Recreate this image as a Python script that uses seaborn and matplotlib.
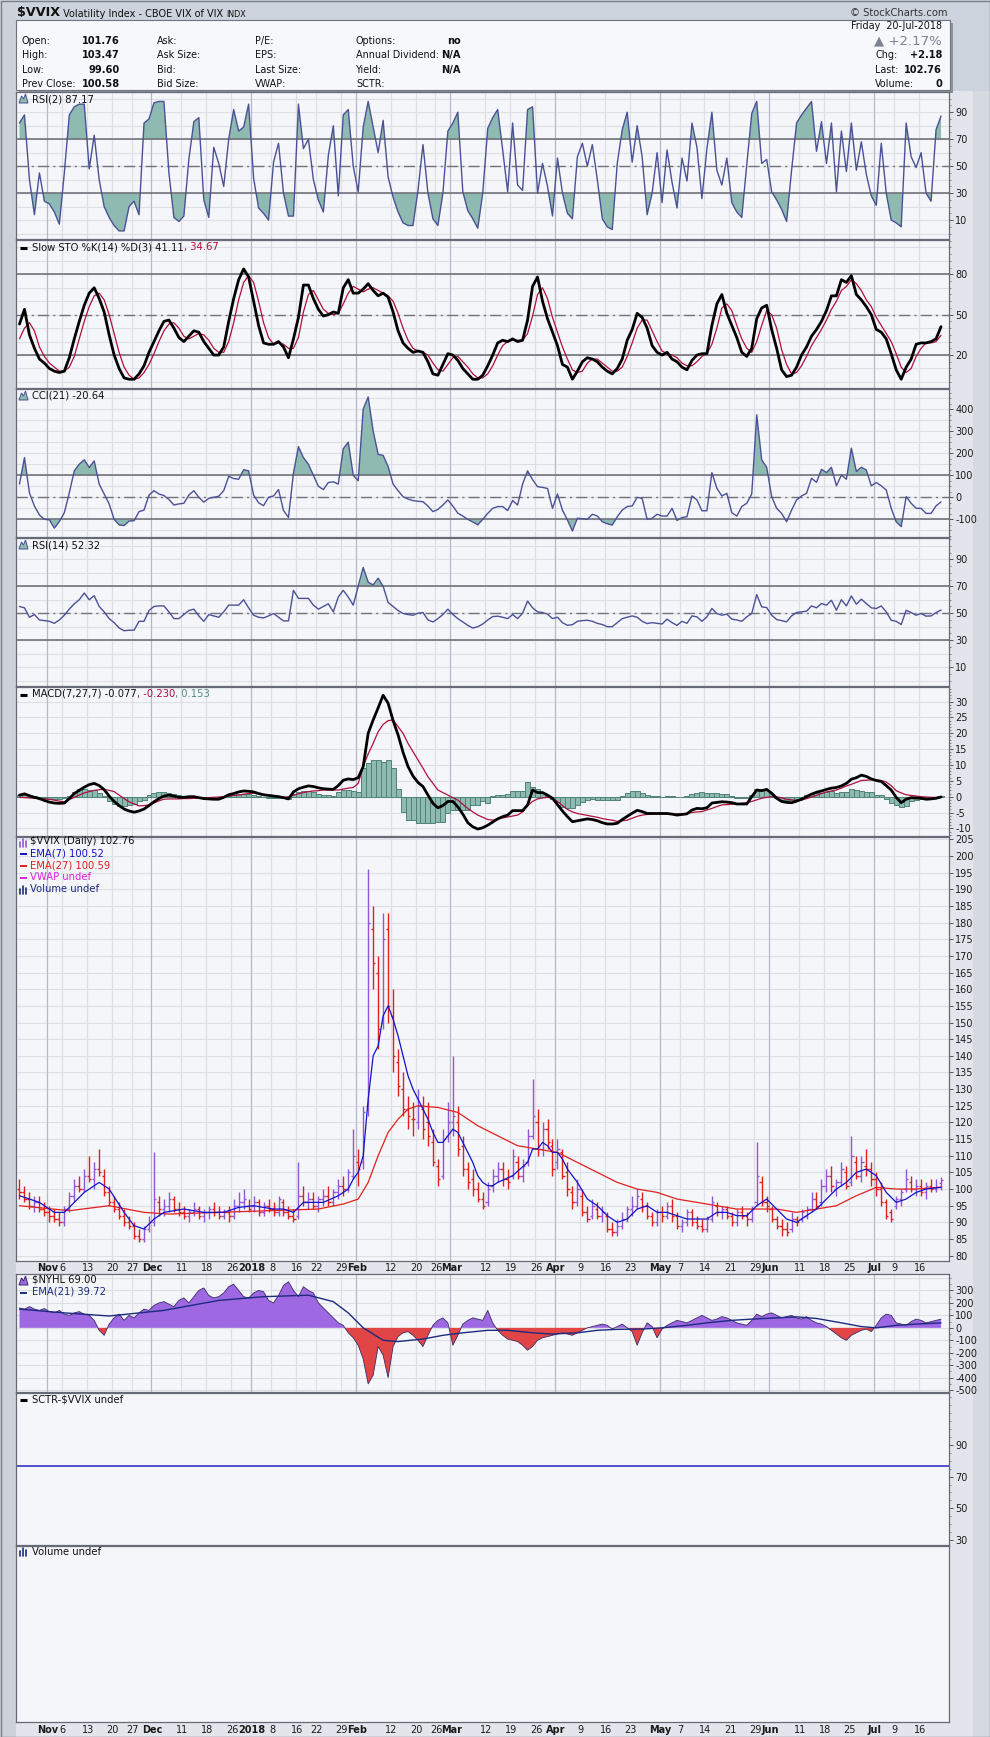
import numpy as np
import pandas as pd
import matplotlib
matplotlib.use("Agg")
import matplotlib.pyplot as plt
from matplotlib.patches import Rectangle, Polygon
from matplotlib.ticker import MultipleLocator
import seaborn as sns

sns.set_style("white")
plt.rcParams["font.family"] = ["DejaVu Sans"]

# ---------------- data ----------------
holidays = ["2017-11-23", "2017-12-25", "2018-01-01", "2018-01-15",
            "2018-02-19", "2018-03-30", "2018-05-28", "2018-07-04"]
days = pd.bdate_range("2017-10-24", "2018-07-20")
days = days[~days.isin(pd.to_datetime(holidays))]

tick_dates = ["2017-11-01", "2017-11-06", "2017-11-13", "2017-11-20", "2017-11-27",
              "2017-12-01", "2017-12-11", "2017-12-18", "2017-12-26", "2018-01-02",
              "2018-01-08", "2018-01-16", "2018-01-22", "2018-01-29", "2018-02-01",
              "2018-02-12", "2018-02-20", "2018-02-26", "2018-03-01", "2018-03-12",
              "2018-03-19", "2018-03-26", "2018-04-02", "2018-04-09", "2018-04-16",
              "2018-04-23", "2018-05-01", "2018-05-07", "2018-05-14", "2018-05-21",
              "2018-05-29", "2018-06-01", "2018-06-11", "2018-06-18", "2018-06-25",
              "2018-07-02", "2018-07-09", "2018-07-16"]
tick_text = ["Nov", "6", "13", "20", "27", "Dec", "11", "18", "26", "2018",
             "8", "16", "22", "29", "Feb", "12", "20", "26", "Mar", "12",
             "19", "26", "Apr", "9", "16", "23", "May", "7", "14", "21",
             "29", "Jun", "11", "18", "25", "Jul", "9", "16"]
month_text = ["Nov", "Dec", "2018", "Feb", "Mar", "Apr", "May", "Jun", "Jul"]

rsi2 = [82, 88, 40, 14, 45, 24, 22, 16, 7, 45,
        88, 94, 96, 96, 48, 73, 40, 20, 12, 6,
        2, 2, 20, 24, 14, 82, 85, 97, 98, 98,
        45, 12, 9, 13, 55, 83, 86, 25, 12, 64,
        52, 35, 70, 92, 76, 79, 96, 41, 19, 15,
        10, 53, 67, 30, 13, 13, 96, 63, 70, 40,
        25, 16, 58, 80, 28, 88, 92, 50, 31, 79,
        98, 79, 60, 84, 42, 27, 16, 8, 6, 6,
        32, 66, 30, 11, 6, 30, 76, 82, 90, 31,
        17, 11, 4, 30, 78, 86, 92, 62, 31, 82,
        36, 32, 92, 94, 30, 52, 35, 13, 56, 30,
        15, 11, 57, 67, 50, 66, 40, 11, 5, 3,
        52, 77, 90, 53, 80, 57, 14, 30, 60, 23,
        62, 38, 19, 56, 39, 82, 64, 26, 63, 90,
        47, 36, 56, 23, 16, 12, 51, 89, 98, 52,
        55, 31, 25, 18, 9, 47, 82, 88, 93, 98,
        61, 83, 52, 82, 31, 76, 46, 82, 47, 68,
        44, 28, 21, 67, 30, 10, 8, 5, 82, 57,
        49, 60, 30, 24, 77, 87.17]

sto_k = [43, 54, 35, 25, 17, 14, 10, 8, 7, 8,
         18, 32, 45, 57, 66, 70, 62, 52, 35, 20,
         10, 3, 2, 2, 6, 12, 22, 30, 38, 45,
         46, 40, 33, 30, 34, 38, 37, 30, 25, 20,
         20, 26, 45, 62, 76, 84, 78, 60, 42, 29,
         28, 28, 30, 26, 18, 32, 48, 72, 72, 62,
         54, 49, 50, 52, 51, 70, 76, 66, 66, 69,
         73, 68, 64, 66, 63, 52, 38, 29, 25, 22,
         23, 22, 15, 6, 5, 13, 21, 20, 16, 10,
         6, 2, 2, 5, 12, 20, 29, 31, 30, 32,
         30, 31, 46, 71, 78, 60, 47, 37, 27, 13,
         11, 2, 8, 15, 18, 17, 15, 11, 8, 6,
         10, 17, 31, 39, 51, 48, 40, 27, 22, 20,
         22, 17, 15, 11, 9, 16, 20, 21, 21, 42,
         58, 65, 51, 42, 33, 22, 19, 25, 47, 55,
         57, 39, 25, 9, 4, 5, 11, 20, 26, 34,
         39, 45, 53, 64, 64, 76, 74, 79, 65, 61,
         56, 50, 39, 37, 32, 21, 9, 2, 11, 17,
         28, 29, 29, 30, 32, 41.11]

sto_d = [32, 40, 44, 38, 26, 19, 14, 11, 8, 8,
         11, 19, 32, 45, 56, 64, 66, 61, 50, 36,
         22, 11, 5, 2, 3, 7, 13, 21, 30, 38,
         43, 44, 40, 34, 32, 34, 36, 35, 31, 25,
         22, 22, 30, 44, 61, 74, 79, 74, 60, 44,
         33, 28, 29, 28, 25, 25, 33, 52, 65, 68,
         61, 54, 51, 50, 51, 58, 66, 71, 69, 67,
         69, 70, 68, 66, 64, 60, 51, 40, 31, 25,
         23, 22, 20, 14, 9, 8, 13, 18, 19, 15,
         11, 6, 3, 3, 6, 12, 20, 27, 30, 31,
         31, 31, 36, 49, 65, 70, 62, 48, 37, 26,
         17, 9, 7, 8, 14, 17, 17, 14, 11, 8,
         8, 11, 19, 29, 40, 46, 46, 38, 30, 23,
         21, 20, 18, 14, 12, 12, 15, 19, 21, 28,
         40, 55, 58, 53, 42, 32, 25, 22, 30, 42,
         53, 50, 40, 24, 13, 6, 7, 12, 19, 27,
         33, 39, 46, 54, 60, 68, 71, 76, 73, 68,
         61, 56, 48, 42, 36, 30, 21, 11, 7, 10,
         19, 25, 29, 29, 30, 34.67]

cci = [60, 180, 20, -40, -80, -100, -102, -140, -110, -70,
       20, 120, 150, 170, 135, 165, 60, 15, -30, -100,
       -125, -128, -108, -106, -65, -58, 10, 30, 15, 8,
       -10, -35, -30, -27, 10, 30, 0, -22, -5, 0,
       5, 30, 95, 85, 82, 125, 120, 10, -25, -38,
       0, 6, 35, -60, -91, 110, 230, 180, 150, 100,
       50, 35, 67, 70, 60, 220, 250, 100, 75, 400,
       455, 300, 195, 190, 140, 60, 30, 3, -8, -15,
       -18, -20, -40, -65, -55, -35, -12, -40, -72, -85,
       -100, -112, -125, -100, -73, -50, -42, -42, -60, -15,
       -35, 60, 120, 80, 48, 45, 40, -50, 15, -58,
       -103, -153, -95, -97, -100, -77, -85, -111, -120, -126,
       -88, -58, -42, -39, 0, -5, -100, -95, -77, -85,
       -85, -50, -105, -92, -88, 6, -12, -61, -61, 112,
       41, 6, 18, -70, -85, -42, -27, 15, 374, 170,
       136, 3, -50, -73, -111, -58, -12, 6, 18, 86,
       68, 127, 112, 136, 52, 101, 82, 223, 117, 136,
       124, 52, 67, 52, 33, -50, -111, -133, 3, -27,
       -50, -50, -73, -73, -39, -20.64]

rsi14 = [55, 54, 47, 49, 45, 44.5, 44, 42.5, 45, 48.5,
         53, 57, 60, 65, 60, 63, 55, 51, 46, 43,
         39, 37, 37.4, 37.4, 44, 44, 52, 55, 55.4, 55.4,
         51, 46, 46, 49, 52, 53, 48, 44, 49, 48,
         47, 51, 56, 56, 56, 60, 54, 48.5, 47, 46.5,
         48, 49.8, 47, 44.3, 44.3, 67, 61, 61, 61, 56,
         53, 55, 57, 51, 62, 67, 62, 56, 70, 84,
         73, 71, 76, 70, 58, 55, 52, 49.8, 49, 48.5,
         50, 50.5, 45, 43.5, 46, 49, 53, 49, 46, 43.5,
         41, 39, 40, 42, 45, 47.5, 47.8, 47, 46, 49,
         46, 50, 59, 54, 51, 50.5, 49.3, 46, 47, 43,
         41, 41.5, 44, 44.5, 44.8, 44, 42.5, 41.6, 40, 40,
         43, 46, 47, 48, 47, 44, 42.3, 43, 42.5, 42,
         45.6, 43, 41, 44, 42.5, 48, 47.3, 44, 47.3, 53.5,
         49.8, 48.5, 49.3, 45.6, 45, 44, 47.3, 49.8, 63.8, 54.7,
         54.2, 48.5, 45.3, 44.5, 43.6, 48, 50.5, 51, 51.5, 55.4,
         54, 57.2, 56, 59.6, 52.2, 60, 55.4, 62.8, 56.7, 60.4,
         57.2, 54, 53.5, 55.4, 51, 44.8, 44, 41.6, 52.2, 50.5,
         48.5, 49.8, 47.8, 48, 50.5, 52.32]

macd = [0.5, 0.9, 0.3, -0.2, -0.6, -1.2, -1.7, -2.0, -2.1, -2.0,
        -0.6, 1.0, 2.0, 3.0, 3.8, 4.2, 3.5, 2.2, 0.2, -1.5,
        -2.8, -3.9, -4.5, -4.9, -4.5, -3.9, -2.8, -1.6, -0.6, 0.2,
        0.5, 0.2, -0.2, -0.2, 0, 0, -0.3, -0.6, -0.7, -0.8,
        -0.8, -0.2, 0.6, 1.0, 1.5, 1.8, 1.7, 1.5, 1.0, 0.6,
        0.4, 0.2, 0, -0.3, -0.7, 1.5, 2.5, 3.0, 3.4, 3.2,
        2.8, 2.5, 2.4, 2.3, 3.5, 5.2, 5.6, 5.4, 6.0, 9.5,
        20, 24.2, 28, 32, 29.5, 24, 19.5, 14, 9.5, 6.5,
        4.5, 3.2, 0.5, -2.1, -3.5, -2.8, -1.5, -1.5, -3.2, -5.5,
        -8.2, -9.5, -10.2, -9.8, -9.0, -8.0, -7.0, -6.3, -5.8, -4.4,
        -4.4, -4.4, -2.6, 2.1, 1.3, 1.3, 0.5, -0.5, -2.5, -4.5,
        -6.3, -7.9, -7.6, -7.3, -7.0, -7.2, -7.6, -8.2, -8.6, -8.6,
        -8.4, -7.2, -6.2, -5.2, -4.3, -4.7, -5.3, -5.3, -5.3, -5.3,
        -5.3, -5.5, -5.8, -5.6, -5.4, -4.2, -3.7, -3.8, -3.5, -2.0,
        -1.8, -1.6, -1.7, -1.9, -2.3, -2.3, -2.3, 0.0, 2.1, 1.9,
        2.3, 1.1, -0.5, -1.5, -1.8, -1.9, -1.4, -0.8, 0, 0.8,
        1.4, 1.8, 2.3, 2.7, 2.9, 3.4, 4.2, 5.5, 6.0, 6.8,
        6.4, 5.6, 5.1, 4.8, 3.5, 2.1, -0.2, -1.9, -0.8, -0.3,
        -0.4, -0.5, -0.8, -0.7, -0.5, -0.077]

macd_signal = [-0.2, -0.3, -0.4, -0.5, -0.6, -0.7, -0.8, -1.1, -1.4, -1.6,
               -0.9, -0.2, 0.5, 1.2, 1.6, 2.0, 2.2, 2.3, 2.0, 1.6,
               0.5, -0.6, -1.6, -2.3, -2.9, -2.8, -2.6, -2.0, -1.3, -0.8,
               -0.7, -0.7, -0.7, -0.6, -0.6, -0.5, -0.5, -0.4, -0.3, -0.2,
               -0.1, 0, 0.2, 0.4, 0.5, 0.8, 1.0, 1.1, 0.9, 0.7,
               0.5, 0.3, 0.1, -0.2, 0, 0.5, 0.9, 1.3, 1.6, 1.8,
               1.9, 2.1, 2.1, 2.1, 2.1, 2.4, 2.7, 2.9, 4.2, 9.5,
               13.5, 16.8, 20.5, 22.8, 24.0, 24.2, 22.1, 20.0, 16.8, 14.2,
               11.6, 9.0, 6.3, 4.2, 2.1, 1.3, 0.5, -0.3, -1.1, -2.4,
               -3.7, -4.8, -5.8, -6.5, -7.2, -7.4, -7.0, -6.7, -6.4, -6.1,
               -5.8, -4.8, -2.8, -1.5, -0.7, -0.4, -0.2, -0.6, -1.5, -2.8,
               -4.0, -4.8, -5.3, -5.6, -5.9, -6.2, -6.5, -6.9, -7.2, -7.4,
               -7.8, -7.6, -7.4, -6.8, -6.2, -5.8, -5.6, -5.4, -5.3, -5.4,
               -5.5, -5.5, -5.4, -5.4, -5.3, -5.0, -4.8, -4.7, -4.2, -3.7,
               -3.1, -2.6, -2.5, -2.4, -2.3, -2.1, -1.9, -1.5, -1.0, -0.5,
               -0.2, 0, 0, -0.4, -0.8, -1.0, -1.2, -1.1, -0.6, -0.1,
               0.4, 1.0, 1.5, 1.8, 2.1, 2.7, 3.4, 3.9, 4.5, 5.1,
               5.2, 5.3, 5.3, 5.1, 4.6, 3.5, 1.9, 1.2, 0.6, 0.4,
               0.2, 0, -0.1, -0.2, -0.2, -0.23]

macd_hist = [0.4, 0.6, 0.5, 0.3, 0, -0.3, -0.6, -0.8, -0.7, -0.5,
             0.3, 1.5, 2.3, 2.4, 2.2, 2.2, 1.3, 0.2, -1.3, -2.2,
             -2.9, -2.9, -2.6, -2.2, -1.5, -0.9, 0.4, 1.2, 1.6, 1.6,
             1.2, 0.8, 0.4, 0.2, 0.2, 0.1, 0, -0.2, -0.2, -0.3,
             -0.3, 0, 0.3, 0.6, 0.8, 1.0, 0.9, 0.5, 0.1, -0.2,
             -0.3, -0.4, -0.4, -0.5, -0.6, 0.9, 1.6, 1.7, 1.8, 1.4,
             0.9, 0.5, 0.4, 0.3, 1.4, 2.1, 2.1, 1.8, 1.6, 8.9,
             10.5, 11.6, 11.6, 11.0, 11.6, 8.9, 2.5, -4.7, -7.4, -7.4,
             -8.4, -8.4, -8.4, -8.4, -7.9, -7.9, -5.3, -4.2, -4.2, -4.2,
             -4.2, -2.6, -2.6, -1.5, -2.1, 0.2, 0.5, 0.5, 1.0, 1.8,
             1.8, 1.8, 4.7, 2.9, 2.3, 1.3, 0.2, -0.8, -1.6, -3.2,
             -3.7, -3.5, -2.6, -1.8, -1.0, -0.8, -1.0, -1.2, -1.2, -1.0,
             -0.9, 0.3, 1.3, 1.8, 1.8, 1.3, 0.5, 0.1, 0.1, 0,
             0.1, 0.1, -0.1, 0, 0.3, 0.8, 1.3, 1.6, 1.3, 1.3,
             1.1, 1.0, 0.8, 0.1, -0.3, -0.4, -0.3, 0.5, 2.3, 2.3,
             2.1, 1.0, -0.5, -1.0, -1.0, -1.1, -0.8, -0.5, 0.6, 1.0,
             1.2, 1.3, 1.6, 1.8, 1.3, 1.6, 1.6, 2.3, 2.0, 1.8,
             1.6, 1.5, 0.5, 0.4, -0.8, -2.1, -2.6, -3.4, -3.0, -1.4,
             -1.0, -0.6, -0.5, -0.4, -0.3, 0.153]

price_open = [100, 99, 97, 95, 96, 94, 93, 92, 91, 90,
              94, 98, 101, 100, 104, 103, 106, 104, 99, 96,
              94, 92, 90, 89, 86, 85, 88, 90, 96, 94,
              95, 97, 94, 93, 92, 93, 94, 92, 93, 94,
              93, 92, 93, 92, 95, 96, 95, 95, 96, 93,
              95, 94, 93, 96, 93, 92, 92, 98, 96, 97,
              95, 97, 98, 96, 99, 101, 100, 104, 108, 108,
              125, 178, 165, 150, 178, 152, 138, 130, 124, 121,
              120, 124, 120, 114, 107, 104, 116, 120, 120, 113,
              106, 103, 100, 97, 96, 101, 104, 106, 103, 104,
              108, 104, 108, 116, 120, 112, 118, 113, 108, 111,
              105, 99, 96, 98, 93, 92, 94, 92, 92, 88,
              87, 89, 91, 94, 95, 97, 95, 92, 90, 93,
              92, 95, 92, 89, 90, 93, 90, 89, 88, 91,
              95, 93, 94, 92, 90, 93, 92, 91, 96, 102,
              96, 94, 91, 89, 88, 88, 91, 91, 92, 94,
              97, 96, 101, 104, 100, 102, 105, 102, 108, 104,
              107, 106, 103, 100, 96, 93, 95, 97, 100, 102,
              100, 101, 99, 101, 100, 101.76]
price_high = [103, 101, 99, 98, 98, 96, 95, 94, 93, 95,
              99, 103, 104, 106, 110, 108, 112, 106, 101, 98,
              96, 94, 92, 90, 88, 89, 92, 111, 98, 97,
              99, 98, 96, 95, 94, 96, 95, 94, 95, 96,
              95, 94, 95, 97, 99, 100, 97, 98, 97, 96,
              97, 96, 98, 97, 95, 94, 108, 101, 99, 99,
              98, 100, 101, 100, 103, 104, 106, 118, 112, 125,
              196, 185, 170, 183, 183, 160, 142, 135, 128, 126,
              130, 128, 126, 118, 109, 118, 126, 140, 125, 116,
              108, 106, 102, 99, 102, 106, 108, 108, 106, 112,
              110, 109, 118, 133, 124, 120, 121, 115, 115, 112,
              108, 101, 103, 100, 95, 97, 96, 95, 93, 90,
              91, 93, 95, 98, 100, 99, 96, 93, 94, 95,
              96, 97, 93, 91, 94, 94, 92, 91, 92, 98,
              96, 95, 95, 93, 94, 95, 93, 95, 114, 104,
              98, 95, 92, 91, 90, 93, 92, 94, 95, 99,
              99, 103, 106, 107, 103, 108, 107, 116, 110, 110,
              112, 108, 105, 102, 97, 94, 98, 100, 106, 104,
              103, 103, 102, 103, 103, 103.47]
price_low = [97, 96, 94, 93, 93, 92, 90, 90, 89, 89,
             93, 96, 99, 99, 102, 100, 104, 98, 95, 93,
             91, 89, 88, 85, 84, 84, 87, 89, 92, 92,
             93, 93, 92, 91, 90, 92, 91, 90, 91, 92,
             91, 91, 90, 91, 93, 94, 93, 93, 92, 92,
             93, 92, 92, 92, 91, 90, 91, 95, 94, 94,
             93, 95, 95, 95, 97, 98, 99, 103, 101, 106,
             122, 160, 142, 148, 150, 135, 128, 122, 118, 116,
             118, 115, 113, 107, 101, 103, 114, 116, 110, 104,
             100, 98, 96, 94, 95, 99, 102, 101, 100, 103,
             103, 102, 107, 115, 110, 110, 112, 104, 106, 103,
             98, 94, 95, 92, 90, 91, 91, 90, 87, 86,
             86, 88, 90, 92, 94, 93, 91, 89, 89, 90,
             91, 90, 88, 87, 89, 89, 88, 87, 87, 90,
             92, 91, 91, 89, 89, 91, 89, 90, 95, 95,
             93, 90, 88, 86, 86, 87, 89, 90, 91, 93,
             94, 95, 99, 99, 98, 101, 100, 101, 103, 102,
             104, 101, 98, 95, 91, 90, 94, 95, 99, 99,
             98, 98, 97, 99, 99, 99.60]
price_close = [99, 97, 95, 96, 94, 93, 92, 91, 90, 94,
               98, 101, 100, 104, 103, 106, 105, 99, 96, 94,
               92, 90, 89, 86, 85, 88, 90, 97, 94, 95,
               97, 94, 93, 92, 93, 94, 92, 93, 94, 93,
               92, 93, 92, 95, 96, 97, 94, 96, 93, 95,
               94, 93, 97, 93, 92, 91, 98, 96, 97, 95,
               97, 98, 96, 99, 101, 100, 105, 110, 106, 123,
               180, 168, 148, 175, 155, 140, 131, 124, 122, 121,
               125, 118, 116, 108, 103, 115, 120, 122, 112, 106,
               102, 100, 97, 95, 100, 104, 106, 103, 102, 110,
               104, 107, 116, 122, 112, 118, 114, 106, 112, 104,
               100, 96, 100, 93, 91, 95, 92, 93, 88, 87,
               89, 91, 94, 95, 98, 95, 92, 90, 93, 92,
               95, 92, 89, 90, 93, 90, 89, 88, 91, 96,
               93, 94, 92, 90, 93, 92, 91, 94, 104, 96,
               95, 91, 89, 88, 87, 91, 90, 93, 94, 97,
               95, 101, 104, 101, 102, 106, 101, 110, 104, 108,
               106, 103, 100, 96, 92, 91, 97, 99, 103, 100,
               101, 99, 101, 100, 100.58, 102.76]

ema7_day = [0, 4, 7, 9, 13, 16, 18, 21, 23, 25, 27, 29, 33, 37, 41, 44, 47, 51, 53, 55,
            57, 61, 64, 66, 67, 68, 69, 70, 71, 72, 73, 74, 75, 76, 77, 78, 79, 80, 81, 82,
            83, 84, 85, 86, 87, 88, 89, 90, 91, 92, 93, 94, 95, 96, 99, 102, 103, 104, 105, 106,
            107, 108, 109, 110, 112, 114, 116, 118, 120, 122, 124, 126, 128, 130, 132, 134, 136, 138, 140, 142,
            144, 146, 148, 150, 152, 154, 156, 158, 160, 162, 164, 166, 168, 170, 172, 174, 176, 178, 180, 182,
            185]
ema7_val = [98, 96, 93, 93, 99, 102, 100, 93, 89, 88, 91, 93, 94, 93, 93, 94.5, 95, 94, 94, 93,
            96, 96, 98, 100, 103, 105, 110, 127, 140, 143, 152, 155, 151, 146, 140, 134, 130, 127, 124, 121,
            117, 114, 114, 116, 118, 117, 114, 111, 108, 104, 102, 101, 101, 102, 104, 108, 112, 112, 114, 113,
            111, 111, 109, 106, 102, 97, 95, 92, 90, 91, 94, 95, 93, 93, 92, 91, 91, 91, 93, 93,
            92, 92, 95, 97, 94, 91, 90, 92, 94, 97, 100, 102, 105, 106, 104, 99, 96, 97, 99, 100,
            100.52]

ema27_day = [0, 10, 18, 25, 30, 40, 50, 60, 65, 68, 70, 72, 74, 76, 78, 80, 84, 88, 92, 96,
             100, 104, 108, 112, 116, 120, 124, 128, 132, 136, 140, 144, 148, 152, 156, 160, 164, 168, 172, 176,
             180, 185]
ema27_val = [95, 93.5, 95, 93, 92.5, 93, 93.5, 94, 95.5, 97, 102, 110, 117, 121, 124, 125, 124.5, 123, 119, 116,
             113, 112, 111, 108, 105, 102, 100, 99, 97, 96, 95, 94, 94, 94, 93, 94, 95, 98, 100.5, 100,
             100, 100.59]

nyhl = [160, 150, 170, 150, 140, 155, 130, 120, 140, 110,
        100, 120, 130, 110, 100, 60, -20, -60, 30, 80,
        110, 60, 100, 80, 120, 150, 140, 180, 200, 210,
        190, 170, 220, 240, 200, 250, 300, 320, 260, 240,
        250, 280, 330, 350, 300, 250, 240, 280, 300, 290,
        220, 200, 260, 340, 370, 300, 250, 330, 300, 280,
        200, 160, 120, 80, 40, 20, -40, -80, -140, -250,
        -450, -380, -150, -220, -400, -150, -70, -40, -30, -60,
        -100, -150, -60, 20, 60, 80, 40, -140, -60, 30,
        60, 80, 70, 60, 140, 40, -20, -60, -90, -100,
        -110, -140, -180, -150, -100, -80, -70, -60, -50, -40,
        -50, -60, -40, -20, 0, 10, 20, 30, 20, -10,
        10, 30, 0, -30, -140, -40, 40, 10, -80, -10,
        20, 40, 60, 50, 40, 60, 80, 100, 80, 60,
        70, 90, 80, 60, 40, 30, 20, 60, 110, 90,
        110, 120, 100, 80, 90, 100, 80, 70, 90, 60,
        40, 30, 10, -20, -50, -80, -100, -60, -40, -20,
        -10, -30, 20, 80, 110, 100, 40, 30, 20, 50,
        70, 60, 40, 50, 60, 69]

ema21_day = [0, 9, 18, 29, 40, 49, 58, 63, 66, 69, 73, 76, 81, 85, 89, 94, 98, 103, 107, 112,
             116, 120, 125, 129, 134, 138, 143, 147, 152, 156, 160, 165, 169, 172, 176, 180, 185]
ema21_val = [150, 120, 95, 140, 220, 250, 262, 210, 120, 0, -100, -110, -90, -60, -40, -20, -20, -40, -50, -40,
             -20, -12, -10, 0, 20, 40, 60, 70, 80, 88, 75, 40, 10, 0, 20, 30, 39.72]

sctr_level = 77

# ---------------- styling ----------------
W, H = 990, 1737
XL = (-0.7, 186.6)
BG = "#F5F6FA"
GRID = "#DCDFE6"
MGRID = "#B4B9C3"
BORDER = "#666B75"
LVL = "#707379"
LINE = "#4B5196"
FILL = "#8FBAB1"
CRIMSON = "#B0103C"

tick_idx = [int(days.searchsorted(pd.Timestamp(d))) for d in tick_dates]

fig = plt.figure(figsize=(W / 100, H / 100), dpi=100)
fig.patch.set_facecolor("#E2E5EB")

under = fig.add_axes([0, 0, 1, 1], zorder=-10)
under.set_xlim(0, W)
under.set_ylim(H, 0)
under.axis("off")
over = fig.add_axes([0, 0, 1, 1], zorder=10)
over.set_xlim(0, W)
over.set_ylim(H, 0)
over.axis("off")

under.add_patch(Rectangle((0, 0), W, 91, fc="#CDD3DC", ec="none"))
under.add_patch(Rectangle((0, 0), 16, H, fc="#CDD2DA", ec="none"))
under.add_patch(Rectangle((973, 91), W - 973, H - 91, fc="#D5D9E0", ec="none"))
under.add_patch(Rectangle((19, 23), 934, 70, fc="#8E949E", ec="none"))
under.add_patch(Rectangle((16, 20), 934, 70, fc="#F7F8FB", ec="#6E737D", lw=0.8))
under.add_patch(Rectangle((0.5, 0.5), W - 1, H - 1, fill=False, ec="#7A7F88", lw=1))


def panel(top, bottom):
    ax = fig.add_axes([16 / W, 1 - bottom / H, (949 - 16) / W, (bottom - top) / H])
    ax.set_facecolor(BG)
    return ax


def style(ax, ylim, ticks=None, hgrid=None, minor=None, vgrid=True):
    ax.set_xlim(*XL)
    ax.set_ylim(*ylim)
    if hgrid is not None:
        for g in hgrid:
            ax.axhline(g, color=GRID, lw=0.8, zorder=0)
    if vgrid:
        for i, t in zip(tick_idx, tick_text):
            c = MGRID if t in month_text else GRID
            ax.axvline(i - 0.5, color=c, lw=0.9, zorder=0)
    ax.set_xticks([])
    ax.set_xlabel("")
    ax.set_ylabel("")
    ax.yaxis.tick_right()
    if ticks is None:
        ax.set_yticks([])
    else:
        ax.set_yticks(ticks)
        ax.set_yticklabels([str(t) for t in ticks])
        if minor:
            ax.yaxis.set_minor_locator(MultipleLocator(minor))
        ax.tick_params(axis="y", which="major", right=True, length=3, width=0.7, color="#555",
                       labelsize=7, pad=1.5, labelcolor="#1A1A1A")
        ax.tick_params(axis="y", which="minor", right=True, length=1.5, width=0.6, color="#777")
    for s in ax.spines.values():
        s.set_color(BORDER)
        s.set_linewidth(0.9)


def levels(ax, hi, lo, mid):
    ax.axhline(hi, color=LVL, lw=1.2, zorder=2)
    ax.axhline(lo, color=LVL, lw=1.2, zorder=2)
    ax.axhline(mid, color=LVL, lw=1.0, ls=(0, (8, 3, 1.5, 3)), zorder=2)


def band_fill(ax, y, hi, lo):
    x = np.arange(len(y))
    y = np.asarray(y, float)
    ax.fill_between(x, y, hi, where=y >= hi, interpolate=True, color=FILL, lw=0, zorder=1)
    ax.fill_between(x, y, lo, where=y <= lo, interpolate=True, color=FILL, lw=0, zorder=1)


def mountain(x0, y0, fc, ec):
    xs = np.array([0, 2.5, 4.5, 6.5, 9]) + x0
    ys = np.array([9, 2, 5, 0, 9]) + y0
    over.add_patch(Polygon(np.column_stack([xs, ys]), closed=True, fc=fc, ec=ec, lw=0.7))


def dash(x0, y, color, lw=2.2):
    over.plot([x0, x0 + 7], [y, y], color=color, lw=lw, solid_capstyle="butt")


def bars_icon(x0, y0, color):
    for k, h in enumerate([5, 8, 6]):
        over.plot([x0 + 1 + 3 * k, x0 + 1 + 3 * k], [y0 + 9, y0 + 9 - h], color=color, lw=1.2)


def legend(x, y, parts, size=7.2):
    t = over.text(x, y, parts[0][0], color=parts[0][1], fontsize=size, va="bottom", ha="left")
    for s, c in parts[1:]:
        t = over.annotate(s, xy=(1, 0), xycoords=t, va="bottom", ha="left", color=c, fontsize=size)
    return t


# ---------------- RSI(2) ----------------
top = 92
ax = panel(top, 239)
band_fill(ax, rsi2, 70, 30)
levels(ax, 70, 30, 50)
sns.lineplot(x=np.arange(len(rsi2)), y=rsi2, ax=ax, color=LINE, lw=1.0, zorder=3)
style(ax, (-4, 105), [10, 30, 50, 70, 90], hgrid=range(0, 101, 10), minor=5)
mountain(19, top + 2, FILL, LINE)
legend(32, top + 12, [("RSI(2) 87.17", "#111")])

# ---------------- Slow STO ----------------
top = 240
ax = panel(top, 388)
levels(ax, 80, 20, 50)
sns.lineplot(x=np.arange(len(sto_d)), y=sto_d, ax=ax, color=CRIMSON, lw=0.9, zorder=3)
sns.lineplot(x=np.arange(len(sto_k)), y=sto_k, ax=ax, color="black", lw=2.0, zorder=4)
style(ax, (-4.5, 105.5), [20, 50, 80], hgrid=range(0, 101, 10), minor=5)
dash(20, top + 8, "black")
legend(32, top + 12, [("Slow STO %K(14) %D(3) 41.11", "#111"), (", 34.67", CRIMSON)])

# ---------------- CCI(21) ----------------
top = 389
ax = panel(top, 537)
band_fill(ax, cci, 100, -100)
levels(ax, 100, -100, 0)
sns.lineplot(x=np.arange(len(cci)), y=cci, ax=ax, color=LINE, lw=1.0, zorder=3)
style(ax, (-180, 491), [-100, 0, 100, 200, 300, 400], hgrid=range(-150, 500, 50), minor=25)
mountain(19, top + 2, FILL, LINE)
legend(32, top + 12, [("CCI(21) -20.64", "#111")])

# ---------------- RSI(14) ----------------
top = 538
ax = panel(top, 686)
band_fill(ax, rsi14, 70, 30)
levels(ax, 70, 30, 50)
sns.lineplot(x=np.arange(len(rsi14)), y=rsi14, ax=ax, color=LINE, lw=1.0, zorder=3)
style(ax, (-4, 105.8), [10, 30, 50, 70, 90], hgrid=range(0, 101, 10), minor=5)
mountain(19, top + 2, FILL, LINE)
legend(32, top + 12, [("RSI(14) 52.32", "#111")])

# ---------------- MACD ----------------
top = 687
ax = panel(top, 836)
ax.bar(np.arange(len(macd_hist)), macd_hist, width=1.0, color=FILL, edgecolor="#4F8278",
       linewidth=0.7, zorder=1)
sns.lineplot(x=np.arange(len(macd_signal)), y=macd_signal, ax=ax, color=CRIMSON, lw=0.9, zorder=3)
sns.lineplot(x=np.arange(len(macd)), y=macd, ax=ax, color="black", lw=2.0, zorder=4)
style(ax, (-12.4, 34.6), [-10, -5, 0, 5, 10, 15, 20, 25, 30], hgrid=range(-10, 35, 5), minor=1)
dash(20, top + 8, "black")
legend(32, top + 12, [("MACD(7,27,7) -0.077", "#111"), (", -0.230", CRIMSON), (", 0.153", "#4F8F80")])

# ---------------- Price ----------------
top = 837
ax = panel(top, 1261)
xp = np.arange(len(price_close))
c = np.asarray(price_close, float)
prev = np.concatenate([[price_open[0]], c[:-1]])
cols = np.where(c >= prev, "#9157D6", "#E0201C")
ax.vlines(xp, price_low, price_high, colors=cols, lw=1.0, zorder=3)
ax.hlines(price_open, xp - 0.45, xp, colors=cols, lw=1.0, zorder=3)
ax.hlines(price_close, xp, xp + 0.45, colors=cols, lw=1.0, zorder=3)
sns.lineplot(x=ema27_day, y=ema27_val, ax=ax, color="#E0201C", lw=0.9, zorder=4)
sns.lineplot(x=ema7_day, y=ema7_val, ax=ax, color="#1212C8", lw=0.9, zorder=4)
style(ax, (78.4, 205.7), list(range(80, 206, 5)), hgrid=range(80, 206, 5))
bars_icon(19, top + 1, "#9157D6")
legend(30, top + 9, [("$VVIX (Daily) 102.76", "#111")])
dash(20, top + 17, "#1212C8", lw=1.4)
legend(30, top + 21, [("EMA(7) 100.52", "#1212C8")])
dash(20, top + 29, "#E0201C", lw=1.4)
legend(30, top + 33, [("EMA(27) 100.59", "#E0201C")])
dash(20, top + 41, "#E020E0", lw=1.4)
legend(30, top + 45, [("VWAP undef", "#E020E0")])
bars_icon(19, top + 48, "#1C2A80")
legend(30, top + 57, [("Volume undef", "#1C2A80")])


# ---------------- date rows ----------------
def date_row(top, bottom):
    a = fig.add_axes([16 / W, 1 - bottom / H, (949 - 16) / W, (bottom - top) / H])
    a.set_xlim(*XL)
    a.set_ylim(0, 1)
    a.axis("off")
    for i, t in zip(tick_idx, tick_text):
        a.text(i - 0.3, 0.45, t, ha="center", va="center", fontsize=7, color="#1A1A1A",
               fontweight="bold" if t in month_text else "normal")


date_row(1261, 1274)
date_row(1722, 1737)

# ---------------- $NYHL ----------------
top = 1274
ax = panel(top, 1392)
xn = np.arange(len(nyhl))
yn = np.asarray(nyhl, float)
ax.fill_between(xn, yn, 0, where=yn >= 0, interpolate=True, color="#9D68E2", lw=0, zorder=1)
ax.fill_between(xn, yn, 0, where=yn <= 0, interpolate=True, color="#E24545", lw=0, zorder=1)
sns.lineplot(x=xn, y=yn, ax=ax, color="#3B2A66", lw=0.6, zorder=2)
sns.lineplot(x=ema21_day, y=ema21_val, ax=ax, color="#1C2A80", lw=1.0, zorder=3)
style(ax, (-515, 432), list(range(-500, 301, 100)), hgrid=range(-500, 401, 100), minor=50)
mountain(19, top + 2, "#9D68E2", "#3B2A66")
legend(32, top + 11, [("$NYHL 69.00", "#111")])
dash(20, top + 19, "#1C2A80", lw=1.4)
legend(32, top + 23, [("EMA(21) 39.72", "#1C2A80")])

# ---------------- SCTR ----------------
top = 1393
ax = panel(top, 1545)
ax.axhline(sctr_level, color="#3535C8", lw=1.2, zorder=2)
style(ax, (26.8, 122.8), [30, 50, 70, 90], vgrid=False, minor=5)
dash(20, top + 7, "black")
legend(32, top + 11, [("SCTR-$VVIX undef", "#111")])

# ---------------- Volume ----------------
top = 1546
ax = panel(top, 1722)
style(ax, (0, 1), None, vgrid=False)
bars_icon(19, top + 1, "#1C2A80")
legend(32, top + 11, [("Volume undef", "#111")])

# ---------------- header ----------------
t = over.text(17, 19, "$VVIX", fontsize=9.2, fontweight="bold", color="#111", va="bottom", ha="left")
t = over.annotate(" Volatility Index - CBOE VIX of VIX ", xy=(1, 0), xycoords=t, va="bottom",
                  ha="left", fontsize=7.0, color="#111")
over.annotate("INDX", xy=(1, 0), xycoords=t, va="bottom", ha="left", fontsize=5.8, color="#111")
over.text(948, 18, "\u00a9 StockCharts.com", fontsize=7.2, color="#333", va="bottom", ha="right")

rows_y = [41, 55, 70, 84]
col1 = ["Open:", "High:", "Low:", "Prev Close:"]
col1_val = ["101.76", "103.47", "99.60", "100.58"]
col2 = ["Ask:", "Ask Size:", "Bid:", "Bid Size:"]
col3 = ["P/E:", "EPS:", "Last Size:", "VWAP:"]
col4 = ["Options:", "Annual Dividend:", "Yield:", "SCTR:"]
col4_val = ["no", "N/A", "N/A", ""]
LBL = 6.9
VAL = 7.1
for y, a, av, b, cc, d, dv in zip(rows_y, col1, col1_val, col2, col3, col4, col4_val):
    over.text(22, y, a, fontsize=LBL, va="center", ha="left", color="#111")
    over.text(120, y, av, fontsize=VAL, fontweight="bold", va="center", ha="right", color="#111")
    over.text(157, y, b, fontsize=LBL, va="center", ha="left", color="#111")
    over.text(255, y, cc, fontsize=LBL, va="center", ha="left", color="#111")
    over.text(356, y, d, fontsize=LBL, va="center", ha="left", color="#111")
    over.text(461, y, dv, fontsize=VAL, fontweight="bold", va="center", ha="right", color="#111")

over.text(942, 26, "Friday  20-Jul-2018", fontsize=LBL, va="center", ha="right", color="#111")
over.text(942, 41, "\u25b2 +2.17%", fontsize=9.5, va="center", ha="right", color="#7B8391")
for y, lab, val in zip([55, 70, 84], ["Chg:", "Last:", "Volume:"], ["+2.18", "102.76", "0"]):
    over.text(875, y, lab, fontsize=LBL, va="center", ha="left", color="#111")
    over.text(942, y, val, fontsize=VAL, fontweight="bold", va="center", ha="right", color="#111")

fig.savefig("out.png", dpi=100, facecolor=fig.get_facecolor())
